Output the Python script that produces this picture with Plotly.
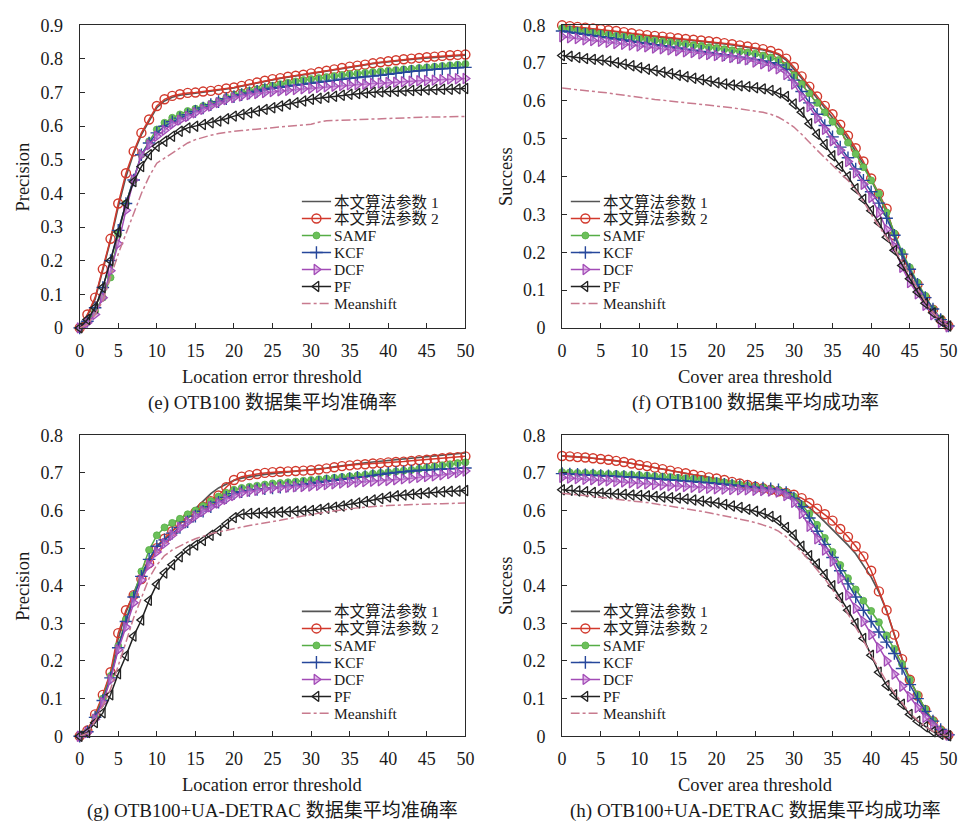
import plotly.graph_objects as go

W, H = 967, 836

# ---------------- data ----------------
thresholds = list(range(0, 51))
series_names = ["本文算法参数 1", "本文算法参数 2", "SAMF", "KCF", "DCF", "PF", "Meanshift"]
x_ticks = list(range(0, 51, 5))

# (e) OTB100 precision
E_p1 = [0.000,0.035,0.085,0.170,0.260,0.360,0.450,0.520,0.575,0.615,0.655,0.675,0.686,0.692,0.696,0.698,0.701,0.704,0.707,0.711,0.714,0.719,0.724,0.729,0.734,0.738,0.742,0.746,0.749,0.752,0.756,0.760,0.764,0.768,0.772,0.776,0.779,0.782,0.786,0.789,0.792,0.795,0.797,0.799,0.801,0.803,0.805,0.807,0.809,0.810,0.811]
E_p2 = [0.000,0.040,0.090,0.175,0.265,0.370,0.460,0.525,0.580,0.620,0.660,0.680,0.690,0.695,0.699,0.700,0.703,0.705,0.708,0.712,0.715,0.720,0.725,0.730,0.735,0.740,0.743,0.747,0.750,0.753,0.757,0.761,0.765,0.769,0.773,0.777,0.780,0.783,0.787,0.790,0.793,0.796,0.799,0.801,0.803,0.805,0.807,0.809,0.811,0.812,0.813]
E_samf = [0.000,0.020,0.050,0.090,0.150,0.280,0.370,0.440,0.515,0.555,0.590,0.610,0.625,0.635,0.645,0.652,0.660,0.667,0.675,0.685,0.693,0.700,0.705,0.710,0.715,0.720,0.725,0.729,0.733,0.737,0.740,0.743,0.746,0.749,0.752,0.755,0.757,0.759,0.761,0.763,0.765,0.767,0.769,0.771,0.773,0.775,0.777,0.779,0.781,0.783,0.785]
E_kcf = [0.000,0.020,0.060,0.120,0.200,0.290,0.370,0.440,0.515,0.550,0.580,0.600,0.613,0.624,0.634,0.644,0.654,0.664,0.673,0.682,0.688,0.694,0.699,0.704,0.709,0.713,0.716,0.719,0.722,0.725,0.728,0.731,0.734,0.737,0.740,0.743,0.745,0.747,0.749,0.751,0.754,0.757,0.760,0.763,0.765,0.767,0.769,0.771,0.772,0.774,0.775]
E_dcf = [0.000,0.015,0.040,0.090,0.170,0.250,0.350,0.440,0.515,0.545,0.570,0.588,0.606,0.618,0.629,0.640,0.650,0.660,0.670,0.679,0.685,0.690,0.694,0.697,0.700,0.703,0.705,0.707,0.709,0.711,0.713,0.715,0.717,0.719,0.721,0.723,0.724,0.725,0.727,0.728,0.730,0.731,0.732,0.734,0.735,0.736,0.737,0.738,0.740,0.741,0.742]
E_pf = [0.000,0.025,0.060,0.120,0.200,0.285,0.370,0.435,0.480,0.515,0.540,0.555,0.570,0.585,0.595,0.600,0.605,0.610,0.615,0.622,0.630,0.635,0.640,0.645,0.650,0.655,0.660,0.665,0.670,0.675,0.680,0.683,0.686,0.689,0.692,0.695,0.697,0.699,0.701,0.702,0.703,0.704,0.705,0.706,0.707,0.708,0.709,0.710,0.710,0.711,0.712]
E_ms = [0.000,0.010,0.040,0.080,0.150,0.220,0.280,0.340,0.400,0.450,0.490,0.505,0.520,0.535,0.550,0.560,0.567,0.573,0.578,0.582,0.585,0.587,0.589,0.591,0.593,0.595,0.597,0.599,0.601,0.603,0.606,0.612,0.616,0.617,0.618,0.619,0.620,0.621,0.622,0.623,0.624,0.625,0.625,0.626,0.626,0.627,0.627,0.628,0.628,0.629,0.629]

# (f) OTB100 success
F_p1 = [0.798,0.796,0.794,0.792,0.790,0.788,0.785,0.783,0.780,0.777,0.774,0.772,0.770,0.768,0.766,0.764,0.762,0.760,0.758,0.756,0.754,0.751,0.748,0.745,0.742,0.739,0.735,0.730,0.722,0.708,0.685,0.660,0.633,0.607,0.582,0.558,0.530,0.500,0.468,0.433,0.392,0.350,0.305,0.245,0.190,0.150,0.115,0.080,0.048,0.022,0.005]
F_p2 = [0.800,0.798,0.796,0.794,0.792,0.790,0.787,0.785,0.782,0.779,0.776,0.774,0.772,0.770,0.768,0.766,0.764,0.762,0.760,0.758,0.756,0.753,0.750,0.747,0.744,0.741,0.737,0.732,0.725,0.712,0.690,0.665,0.638,0.612,0.587,0.565,0.537,0.508,0.475,0.440,0.395,0.355,0.315,0.245,0.190,0.150,0.115,0.080,0.048,0.022,0.005]
F_samf = [0.792,0.789,0.786,0.783,0.780,0.778,0.775,0.772,0.770,0.767,0.765,0.762,0.760,0.757,0.755,0.752,0.750,0.747,0.745,0.742,0.740,0.737,0.734,0.731,0.728,0.725,0.720,0.715,0.708,0.693,0.668,0.645,0.620,0.595,0.570,0.545,0.520,0.490,0.460,0.425,0.390,0.355,0.305,0.250,0.200,0.160,0.120,0.085,0.050,0.025,0.005]
F_kcf = [0.785,0.782,0.779,0.776,0.773,0.770,0.767,0.764,0.761,0.758,0.755,0.752,0.749,0.746,0.743,0.740,0.737,0.734,0.731,0.728,0.725,0.722,0.719,0.716,0.713,0.710,0.706,0.701,0.695,0.683,0.655,0.625,0.595,0.565,0.535,0.505,0.478,0.450,0.420,0.390,0.360,0.330,0.290,0.245,0.195,0.155,0.115,0.080,0.050,0.022,0.005]
F_dcf = [0.770,0.767,0.765,0.762,0.760,0.758,0.755,0.752,0.750,0.748,0.745,0.743,0.740,0.738,0.735,0.733,0.730,0.728,0.725,0.723,0.720,0.718,0.715,0.712,0.709,0.703,0.698,0.692,0.685,0.670,0.645,0.612,0.585,0.555,0.525,0.495,0.470,0.440,0.410,0.380,0.345,0.305,0.260,0.215,0.160,0.120,0.090,0.060,0.035,0.015,0.003]
F_pf = [0.720,0.718,0.715,0.712,0.710,0.708,0.705,0.701,0.697,0.693,0.688,0.684,0.680,0.676,0.672,0.668,0.664,0.660,0.656,0.652,0.648,0.645,0.642,0.640,0.638,0.635,0.632,0.628,0.621,0.612,0.592,0.570,0.540,0.512,0.485,0.455,0.427,0.400,0.368,0.340,0.310,0.278,0.240,0.205,0.165,0.130,0.095,0.065,0.040,0.018,0.005]
F_ms = [0.634,0.632,0.630,0.628,0.626,0.623,0.621,0.618,0.615,0.612,0.608,0.606,0.604,0.602,0.600,0.598,0.596,0.594,0.592,0.590,0.587,0.585,0.582,0.579,0.576,0.574,0.570,0.565,0.557,0.545,0.531,0.512,0.490,0.470,0.450,0.430,0.410,0.390,0.365,0.335,0.300,0.270,0.240,0.208,0.175,0.140,0.105,0.070,0.040,0.020,0.005]

# (g) OTB100+UA-DETRAC precision
G_p1 = [0.000,0.015,0.055,0.105,0.165,0.260,0.330,0.380,0.430,0.470,0.505,0.525,0.545,0.565,0.585,0.605,0.625,0.645,0.660,0.670,0.680,0.686,0.690,0.693,0.696,0.698,0.700,0.702,0.704,0.706,0.708,0.710,0.713,0.716,0.719,0.722,0.725,0.727,0.729,0.731,0.733,0.735,0.737,0.739,0.741,0.743,0.745,0.747,0.749,0.751,0.753]
G_p2 = [0.000,0.015,0.058,0.110,0.170,0.274,0.335,0.375,0.418,0.460,0.500,0.525,0.545,0.565,0.580,0.595,0.610,0.625,0.640,0.662,0.681,0.690,0.694,0.697,0.700,0.702,0.703,0.704,0.705,0.706,0.707,0.709,0.712,0.715,0.718,0.720,0.722,0.723,0.725,0.726,0.728,0.729,0.730,0.732,0.734,0.735,0.737,0.739,0.741,0.742,0.744]
G_samf = [0.000,0.012,0.050,0.100,0.160,0.240,0.310,0.375,0.438,0.495,0.534,0.555,0.567,0.578,0.590,0.600,0.612,0.625,0.637,0.647,0.655,0.660,0.663,0.666,0.669,0.672,0.673,0.675,0.677,0.679,0.681,0.683,0.685,0.687,0.689,0.691,0.693,0.695,0.698,0.700,0.702,0.704,0.706,0.708,0.711,0.714,0.717,0.720,0.723,0.726,0.728]
G_kcf = [0.000,0.012,0.050,0.095,0.155,0.235,0.305,0.370,0.425,0.470,0.505,0.522,0.540,0.555,0.570,0.585,0.598,0.610,0.622,0.635,0.645,0.650,0.653,0.656,0.658,0.660,0.662,0.665,0.667,0.670,0.672,0.675,0.678,0.680,0.683,0.685,0.688,0.690,0.693,0.696,0.699,0.701,0.703,0.705,0.707,0.708,0.709,0.710,0.711,0.712,0.713]
G_dcf = [0.000,0.010,0.045,0.090,0.150,0.230,0.290,0.355,0.415,0.455,0.490,0.512,0.535,0.555,0.570,0.585,0.598,0.610,0.620,0.630,0.640,0.647,0.651,0.654,0.657,0.660,0.661,0.662,0.663,0.664,0.665,0.667,0.669,0.671,0.673,0.675,0.676,0.677,0.678,0.679,0.680,0.682,0.684,0.686,0.688,0.690,0.692,0.695,0.698,0.701,0.705]
G_pf = [0.000,0.010,0.036,0.062,0.110,0.166,0.214,0.266,0.309,0.361,0.404,0.434,0.456,0.477,0.495,0.508,0.520,0.534,0.547,0.564,0.581,0.590,0.592,0.593,0.594,0.595,0.596,0.597,0.598,0.599,0.600,0.603,0.606,0.609,0.612,0.616,0.620,0.624,0.628,0.632,0.636,0.639,0.641,0.643,0.645,0.647,0.649,0.650,0.651,0.652,0.653]
G_ms = [0.000,0.008,0.040,0.080,0.125,0.185,0.250,0.315,0.370,0.420,0.455,0.480,0.495,0.506,0.516,0.525,0.532,0.538,0.543,0.548,0.552,0.556,0.560,0.563,0.567,0.570,0.574,0.578,0.582,0.586,0.590,0.593,0.596,0.599,0.602,0.605,0.607,0.609,0.611,0.612,0.613,0.614,0.615,0.616,0.617,0.617,0.618,0.618,0.619,0.619,0.620]

# (h) OTB100+UA-DETRAC success
H_p1 = [0.745,0.744,0.742,0.741,0.739,0.737,0.735,0.732,0.729,0.725,0.721,0.718,0.714,0.710,0.706,0.702,0.699,0.695,0.692,0.688,0.685,0.681,0.676,0.672,0.668,0.663,0.659,0.655,0.650,0.645,0.638,0.625,0.608,0.590,0.570,0.550,0.530,0.508,0.485,0.455,0.423,0.383,0.333,0.270,0.205,0.150,0.108,0.070,0.040,0.015,0.003]
H_p2 = [0.745,0.744,0.742,0.741,0.739,0.737,0.735,0.732,0.729,0.725,0.721,0.718,0.714,0.710,0.706,0.702,0.699,0.695,0.692,0.688,0.685,0.681,0.676,0.672,0.668,0.663,0.659,0.655,0.651,0.647,0.642,0.633,0.620,0.605,0.590,0.573,0.551,0.530,0.505,0.478,0.440,0.385,0.335,0.270,0.205,0.150,0.108,0.070,0.040,0.015,0.003]
H_samf = [0.702,0.701,0.700,0.700,0.699,0.698,0.697,0.697,0.696,0.695,0.694,0.693,0.691,0.690,0.689,0.687,0.686,0.684,0.682,0.680,0.678,0.675,0.672,0.669,0.666,0.663,0.661,0.658,0.655,0.648,0.637,0.615,0.592,0.562,0.527,0.490,0.455,0.420,0.390,0.360,0.333,0.303,0.268,0.232,0.192,0.150,0.110,0.072,0.042,0.017,0.003]
H_kcf = [0.698,0.697,0.696,0.695,0.694,0.693,0.692,0.691,0.690,0.689,0.688,0.686,0.685,0.683,0.681,0.680,0.678,0.677,0.675,0.674,0.672,0.670,0.668,0.666,0.664,0.662,0.660,0.658,0.655,0.648,0.633,0.610,0.580,0.545,0.510,0.475,0.440,0.405,0.370,0.335,0.305,0.277,0.250,0.220,0.180,0.137,0.100,0.066,0.040,0.018,0.004]
H_dcf = [0.688,0.686,0.685,0.683,0.682,0.680,0.679,0.677,0.676,0.674,0.672,0.671,0.669,0.668,0.666,0.665,0.664,0.662,0.661,0.659,0.658,0.657,0.656,0.655,0.655,0.654,0.653,0.652,0.649,0.640,0.622,0.592,0.558,0.525,0.495,0.465,0.420,0.375,0.340,0.305,0.270,0.235,0.200,0.165,0.133,0.105,0.076,0.050,0.030,0.012,0.003]
H_pf = [0.655,0.654,0.652,0.650,0.648,0.646,0.645,0.644,0.643,0.641,0.640,0.639,0.637,0.636,0.634,0.633,0.631,0.628,0.625,0.623,0.620,0.616,0.612,0.608,0.603,0.598,0.592,0.584,0.573,0.555,0.535,0.505,0.480,0.458,0.430,0.400,0.368,0.335,0.300,0.260,0.215,0.170,0.135,0.110,0.085,0.058,0.040,0.025,0.012,0.005,0.001]
H_ms = [0.646,0.644,0.641,0.639,0.637,0.635,0.633,0.630,0.628,0.626,0.624,0.621,0.618,0.615,0.612,0.608,0.605,0.602,0.598,0.594,0.590,0.586,0.582,0.577,0.573,0.568,0.562,0.555,0.545,0.530,0.510,0.490,0.467,0.443,0.418,0.390,0.358,0.325,0.290,0.255,0.215,0.180,0.145,0.115,0.088,0.062,0.042,0.026,0.013,0.005,0.001]

captions = ["(e) OTB100 数据集平均准确率", "(f) OTB100 数据集平均成功率",
            "(g) OTB100+UA-DETRAC 数据集平均准确率", "(h) OTB100+UA-DETRAC 数据集平均成功率"]
x_titles = ["Location error threshold", "Cover area threshold",
            "Location error threshold", "Cover area threshold"]
y_titles = ["Precision", "Success", "Precision", "Success"]
y_max = [0.9, 0.8, 0.8, 0.8]

panel_data = [
    [E_p1, E_p2, E_samf, E_kcf, E_dcf, E_pf, E_ms],
    [F_p1, F_p2, F_samf, F_kcf, F_dcf, F_pf, F_ms],
    [G_p1, G_p2, G_samf, G_kcf, G_dcf, G_pf, G_ms],
    [H_p1, H_p2, H_samf, H_kcf, H_dcf, H_pf, H_ms],
]
for pd_ in panel_data:
    for s in pd_:
        assert len(s) == len(thresholds), len(s)

# ---------------- styles ----------------
SERIF = "Liberation Serif, 'Noto Sans CJK SC', serif"
styles = [
    dict(color="#555555", dash="solid", width=1.7, marker=None),
    dict(color="#d2392c", dash="solid", width=1.5,
         marker=dict(symbol="circle-open", size=9, color="#d2392c", line=dict(width=1.4, color="#d2392c"))),
    dict(color="#55ad45", dash="solid", width=1.5,
         marker=dict(symbol="circle", size=7, color="#6cc05a", line=dict(width=0.8, color="#55ad45"))),
    dict(color="#26479b", dash="solid", width=1.5,
         marker=dict(symbol="cross-thin", size=9, color="#26479b", line=dict(width=1.4, color="#26479b"))),
    dict(color="#a24bb6", dash="solid", width=1.5,
         marker=dict(symbol="triangle-right", size=9, color="rgba(205,140,220,0.55)", line=dict(width=1.3, color="#a24bb6"))),
    dict(color="#222222", dash="solid", width=1.5,
         marker=dict(symbol="triangle-left-open", size=9, color="#222222", line=dict(width=1.3, color="#222222"))),
    dict(color="#c87a8e", dash="dashdot", width=1.5, marker=None),
]

# ---------------- geometry (pixels) ----------------
plot_boxes = [  # left, right, top, bottom
    (76.7, 467.7, 15.7, 325.7),
    (565.7, 957.3, 15.7, 325.7),
    (76.7, 467.7, 435.7, 744.0),
    (565.7, 957.3, 435.7, 744.0),
]
legend_left_offset = [225.0, 8.6, 225.0, 8.6]
legend_top_offset = 180.5
legend_row = 17.4
legend_sample_len = 30.0
legend_font = 15.5

def px(x):
    return x / W

def py(y):
    return 1 - y / H

fig = go.Figure()
layout = dict(
    width=W, height=H, margin=dict(l=0, r=0, t=0, b=0),
    paper_bgcolor="white", plot_bgcolor="white", showlegend=False,
    font=dict(family=SERIF, size=18, color="#1a1a1a"),
)
annotations = []

for p in range(4):
    L, R, T, B = plot_boxes[p]
    xa = "x" if p == 0 else f"x{p+1}"
    ya = "y" if p == 0 else f"y{p+1}"
    xk = "xaxis" if p == 0 else f"xaxis{p+1}"
    yk = "yaxis" if p == 0 else f"yaxis{p+1}"
    for s_i, (name, vals) in enumerate(zip(series_names, panel_data[p])):
        st = styles[s_i]
        tr = dict(x=thresholds, y=vals, name=name, xaxis=xa, yaxis=ya,
                  line=dict(color=st["color"], width=st["width"], dash=st["dash"]),
                  cliponaxis=False, showlegend=False)
        if st["marker"] is None:
            tr["mode"] = "lines"
        else:
            tr["mode"] = "lines+markers"
            tr["marker"] = st["marker"]
        fig.add_trace(go.Scatter(**tr))

    axis_common = dict(showline=True, linecolor="#2a2a2a", linewidth=1.2, mirror=True,
                       ticks="inside", ticklen=5, tickwidth=1.1, tickcolor="#2a2a2a",
                       showgrid=False, zeroline=False,
                       tickfont=dict(family=SERIF, size=18, color="#1a1a1a"))
    layout[xk] = dict(axis_common, domain=[px(L), px(R)], range=[0, 50], tickvals=x_ticks,
                      anchor=ya, ticklabelstandoff=6)
    ymax = y_max[p]
    yt = [round(0.1 * k, 1) for k in range(int(round(ymax * 10)) + 1)]
    layout[yk] = dict(axis_common, domain=[py(B), py(T)], range=[0, ymax], tickvals=yt,
                      ticktext=["0" if v == 0 else f"{v:.1f}" for v in yt],
                      anchor=xa, ticklabelstandoff=12)

    # axis titles and caption
    cx = (L + R) / 2
    annotations.append(dict(text=x_titles[p], x=px(cx), y=py(B + 50.5), xref="paper", yref="paper",
                            showarrow=False, xanchor="center", yanchor="middle",
                            font=dict(family=SERIF, size=18.5, color="#1a1a1a")))
    annotations.append(dict(text=captions[p], x=px(cx), y=py(B + 77), xref="paper", yref="paper",
                            showarrow=False, xanchor="center", yanchor="middle",
                            font=dict(family=SERIF, size=19, color="#1a1a1a")))
    annotations.append(dict(text=y_titles[p], x=px(L - 57.5), y=py((T + B) / 2), xref="paper", yref="paper",
                            showarrow=False, xanchor="center", yanchor="middle", textangle=-90,
                            font=dict(family=SERIF, size=18.5, color="#1a1a1a")))

    # manual legend: samples on an overlay axis pair, one label per row
    lx0 = L + legend_left_offset[p]
    lx1 = lx0 + legend_sample_len
    ly0 = T + legend_top_offset
    ly6 = ly0 + 6 * legend_row
    k = p + 5
    lxk, lyk = f"xaxis{k}", f"yaxis{k}"
    layout[lxk] = dict(domain=[px(lx0), px(lx1)], range=[0, 1], visible=False, anchor=f"y{k}",
                       fixedrange=True)
    layout[lyk] = dict(domain=[py(ly6 + legend_row / 2), py(ly0 - legend_row / 2)],
                       range=[6.5, -0.5], visible=False, anchor=f"x{k}", fixedrange=True)
    for s_i, name in enumerate(series_names):
        st = styles[s_i]
        fig.add_trace(go.Scatter(x=[0, 1], y=[s_i, s_i], mode="lines", xaxis=f"x{k}", yaxis=f"y{k}",
                                 line=dict(color=st["color"], width=st["width"], dash=st["dash"]),
                                 showlegend=False, hoverinfo="skip", cliponaxis=False))
        if st["marker"] is not None:
            fig.add_trace(go.Scatter(x=[0.5], y=[s_i], mode="markers", xaxis=f"x{k}", yaxis=f"y{k}",
                                     marker=st["marker"], showlegend=False, hoverinfo="skip",
                                     cliponaxis=False))
        annotations.append(dict(text=name, x=px(lx1 + 1.5), y=py(ly0 + s_i * legend_row),
                                xref="paper", yref="paper", showarrow=False,
                                xanchor="left", yanchor="middle", borderpad=0,
                                font=dict(family=SERIF, size=legend_font, color="#1a1a1a")))

layout["annotations"] = annotations
fig.update_layout(**layout)
fig.write_html("out.html")
